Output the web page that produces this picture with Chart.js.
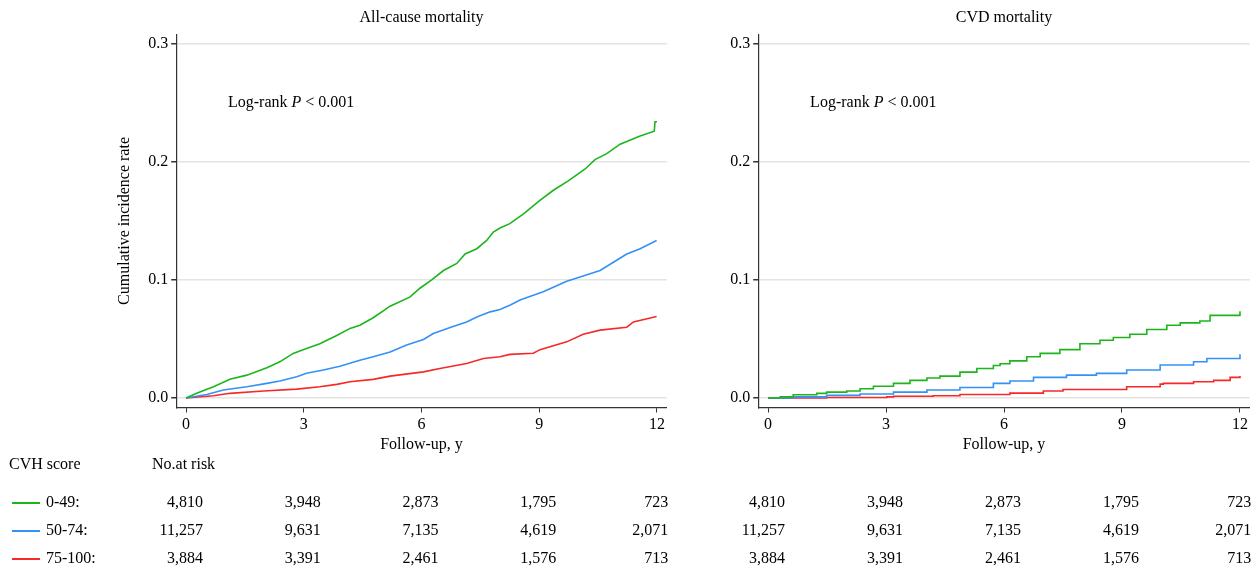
<!DOCTYPE html>
<html>
<head>
<meta charset="utf-8">
<script src="https://cdn.jsdelivr.net/npm/chart.js@4.4.1/dist/chart.umd.min.js"></script>
<style>
  html, body { margin: 0; padding: 0; background: #fff; }
  #wrap { position: relative; width: 1255px; height: 569px; overflow: hidden; }
  .panel { position: absolute; top: 0; height: 569px; }
  #p1 { left: 0; width: 690px; }
  #p2 { left: 690px; width: 565px; }
</style>
</head>
<body>
<div id="wrap">
  <div class="panel" id="p1"><canvas id="allCause"></canvas></div>
  <div class="panel" id="p2"><canvas id="cvd"></canvas></div>
</div>
<script>
// x ticks (years) and y ticks
const xTicks = [0, 3, 6, 9, 12];
const yTicks = [0, 0.1, 0.2, 0.3];

const groups = ['0-49:', '50-74:', '75-100:'];

// number at risk, same for both panels
const riskTimes = [0, 3, 6, 9, 12];
const atRisk0_49 = [4810, 3948, 2873, 1795, 723];
const atRisk50_74 = [11257, 9631, 7135, 4619, 2071];
const atRisk75_100 = [3884, 3391, 2461, 1576, 713];

// cumulative incidence, [year, rate]
const allCause0_49 = [[0,0],[0.27,0.004],[0.70,0.0096],[1.12,0.016],[1.55,0.0194],[2.06,0.0256],[2.39,0.0307],[2.73,0.0378],
  [3.07,0.042],[3.41,0.046],[3.84,0.053],[4.18,0.059],[4.43,0.0617],[4.77,0.068],[5.20,0.0778],[5.71,0.0857],[5.96,0.093],
  [6.26,0.100],[6.56,0.108],[6.90,0.114],[7.11,0.122],[7.41,0.1265],[7.66,0.1335],[7.83,0.1406],[8.0,0.144],[8.25,0.1477],
  [8.6,0.156],[9.0,0.167],[9.36,0.176],[9.74,0.184],[10.17,0.194],[10.42,0.202],[10.72,0.207],[11.06,0.215],[11.57,0.222],
  [11.93,0.226],[11.95,0.234],[12,0.234]];
const allCause50_74 = [[0,0],[0.53,0.003],[0.95,0.0068],[1.55,0.0096],[2.06,0.0124],[2.39,0.0144],[2.82,0.018],[3.07,0.021],
  [3.50,0.0237],[3.92,0.027],[4.43,0.032],[4.77,0.035],[5.20,0.039],[5.62,0.045],[6.05,0.0496],[6.30,0.0546],[6.73,0.0597],
  [7.15,0.0645],[7.41,0.0687],[7.75,0.073],[8.0,0.075],[8.25,0.0786],[8.51,0.083],[9.10,0.090],[9.3,0.093],[9.70,0.099],
  [10.04,0.1025],[10.55,0.108],[10.89,0.115],[11.23,0.122],[11.57,0.1265],[11.99,0.1335]];
const allCause75_100 = [[0,0],[0.70,0.002],[1.12,0.004],[1.97,0.006],[2.82,0.0076],[3.41,0.0096],[3.84,0.0116],[4.18,0.0138],
  [4.77,0.0158],[5.20,0.0186],[6.05,0.0222],[6.47,0.025],[7.15,0.0293],[7.58,0.0335],[8.0,0.035],[8.25,0.037],[8.85,0.038],
  [9.02,0.041],[9.70,0.0476],[10.12,0.054],[10.55,0.0575],[11.23,0.060],[11.4,0.0645],[11.99,0.069]];

const cvd0_49 = [[0,0],[0.31,0.001],[0.64,0.0028],[1.24,0.004],[1.49,0.005],[2.0,0.006],[2.34,0.0079],[2.68,0.010],
  [3.19,0.0124],[3.61,0.015],[4.04,0.017],[4.37,0.0186],[4.88,0.022],[5.31,0.025],[5.73,0.0276],[5.90,0.029],[6.15,0.0315],
  [6.58,0.035],[6.92,0.0378],[7.42,0.041],[7.93,0.046],[8.44,0.049],[8.78,0.0513],[9.20,0.054],[9.63,0.058],[10.14,0.0617],
  [10.48,0.0637],[10.98,0.0653],[11.24,0.070],[11.96,0.070],[12,0.0735]];
const cvd50_74 = [[0,0],[0.64,0.001],[1.49,0.0023],[2.34,0.0034],[3.19,0.005],[4.04,0.0068],[4.88,0.009],[5.73,0.0124],
  [6.15,0.0144],[6.75,0.0175],[7.59,0.0194],[8.35,0.0209],[9.12,0.0237],[9.97,0.028],[10.82,0.0307],[11.16,0.0335],[12,0.037]];
const cvd75_100 = [[0,0],[1.49,0.0005],[3.02,0.001],[3.19,0.0015],[4.2,0.002],[4.88,0.003],[6.15,0.0042],[7.0,0.006],
  [7.5,0.0073],[8.95,0.0073],[9.12,0.0096],[9.97,0.0118],[10.05,0.0124],[10.82,0.0138],[11.33,0.015],[11.75,0.0175],[12,0.0186]];

const pText = [1.07, 0.25]; // where the log-rank note sits, in data units

const colors = ['#1db51d', '#3391f7', '#f72828'];
const FONT = '"Liberation Serif", "Times New Roman", serif';
const font = { family: FONT, size: 16 };

// titles, log-rank note and the number-at-risk table
const kmText = {
  id: 'kmText',
  afterDraw(chart, args, opts) {
    const ctx = chart.ctx, area = chart.chartArea;
    const xs = chart.scales.x, ys = chart.scales.y;
    ctx.save();
    ctx.fillStyle = '#000';
    ctx.textBaseline = 'middle';
    ctx.font = '16px ' + FONT;
    ctx.textAlign = 'center';
    ctx.fillText(opts.title, (area.left + area.right) / 2, 18);

    let px = xs.getPixelForValue(pText[0]);
    const py = ys.getPixelForValue(pText[1]);
    ctx.textAlign = 'left';
    [['Log-rank ', ''], ['P', 'italic '], [' < 0.001', '']].forEach(([s, st]) => {
      ctx.font = st + '16px ' + FONT;
      ctx.fillText(s, px, py);
      px += ctx.measureText(s).width;
    });

    ctx.font = '16px ' + FONT;
    if (opts.labels) {
      ctx.fillText('CVH score', 9, 465);
      ctx.fillText('No.at risk', 152, 465);
    }
    opts.rows.forEach((row, i) => {
      const ry = 503 + i * 28;
      if (opts.labels) {
        ctx.strokeStyle = colors[i];
        ctx.lineWidth = 2;
        ctx.beginPath();
        ctx.moveTo(12, ry);
        ctx.lineTo(40, ry);
        ctx.stroke();
        ctx.textAlign = 'left';
        ctx.fillText(groups[i], 46, ry);
      }
      ctx.textAlign = 'right';
      riskTimes.forEach((t, j) => {
        const rx = Math.min(xs.getPixelForValue(t) + 17, area.right + 1.5);
        ctx.fillText(row[j].toLocaleString('en-US'), rx, ry);
      });
    });
    ctx.restore();
  }
};

function makeChart(id, title, series, yWidth, padRight, showYTitle, labels, stepped) {
  const ctx = document.getElementById(id).getContext('2d');
  return new Chart(ctx, {
    type: 'line',
    data: {
      datasets: series.map((s, i) => ({
        label: groups[i],
        data: s.map(p => ({ x: p[0], y: p[1] })),
        borderColor: colors[i],
        borderWidth: 1.6,
        pointRadius: 0,
        stepped: stepped,
        fill: false
      }))
    },
    options: {
      responsive: true,
      maintainAspectRatio: false,
      animation: false,
      layout: { padding: { top: 34.4, bottom: 114.5, left: 0, right: padRight } },
      plugins: {
        legend: { display: false },
        tooltip: { enabled: false },
        kmText: { title: title, labels: labels, rows: [atRisk0_49, atRisk50_74, atRisk75_100] }
      },
      scales: {
        x: {
          type: 'linear', min: -0.25, max: 12.25,
          afterBuildTicks: s => { s.ticks = xTicks.map(v => ({ value: v })); },
          afterFit: s => { s.height = 47; },
          ticks: { font: font, color: '#000', padding: 3, maxRotation: 0, autoSkip: false },
          grid: { drawOnChartArea: false, tickColor: '#333', tickLength: 5 },
          border: { color: '#333', width: 1.2 },
          title: { display: true, text: 'Follow-up, y', font: font, color: '#000', padding: { top: 0, bottom: 0 } }
        },
        y: {
          type: 'linear', min: -0.008, max: 0.308,
          afterBuildTicks: s => { s.ticks = yTicks.map(v => ({ value: v })); },
          afterFit: s => { s.width = yWidth; },
          ticks: { font: font, color: '#000', padding: 3, callback: v => v.toFixed(1) },
          grid: { color: '#e4e4e4', lineWidth: 1.5, tickColor: '#333', tickLength: 5 },
          border: { color: '#333', width: 1.2 },
          title: { display: showYTitle, text: 'Cumulative incidence rate', font: font, color: '#000', padding: { top: 115 } }
        }
      }
    },
    plugins: [kmText]
  });
}

makeChart('allCause', 'All-cause mortality', [allCause0_49, allCause50_74, allCause75_100], 176.2, 23.2, true, true, false);
makeChart('cvd', 'CVD mortality', [cvd0_49, cvd50_74, cvd75_100], 68.2, 5.2, false, false, true);
</script>
</body>
</html>
